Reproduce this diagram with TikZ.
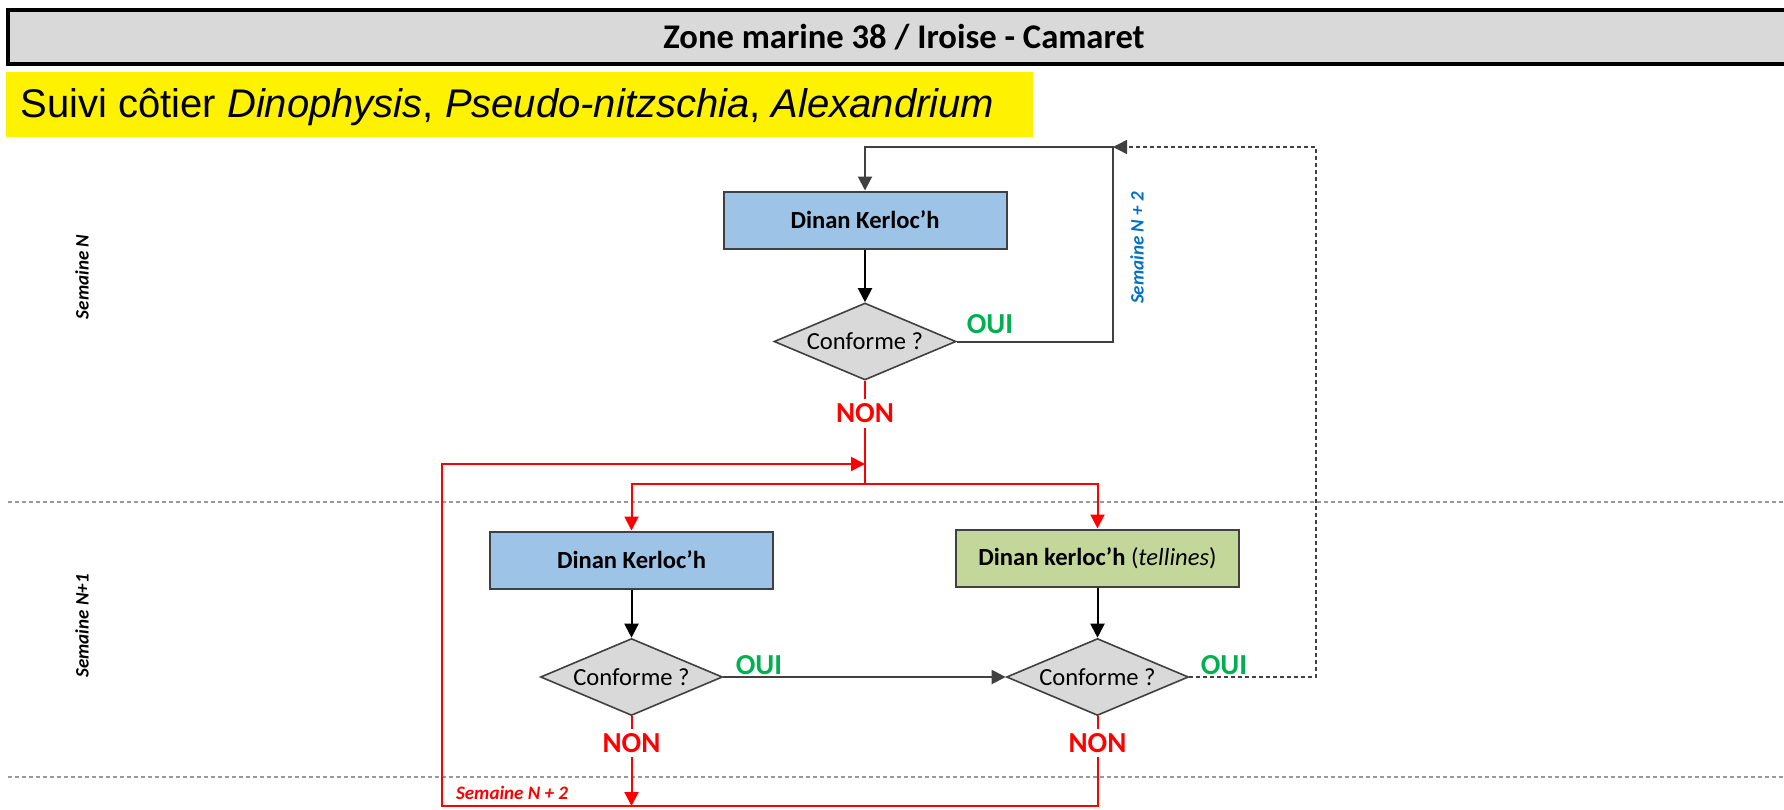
\documentclass[tikz,border=0pt]{standalone}
\usepackage{fontspec}
\setmainfont{Carlito}
\newfontfamily\arialfont{Liberation Sans}
\usetikzlibrary{shapes.geometric,arrows.meta}

\definecolor{titlegray}{HTML}{D9D9D9}
\definecolor{boxblue}{HTML}{9DC3E6}
\definecolor{boxgreen}{HTML}{C4D79B}
\definecolor{ouigreen}{HTML}{00B050}
\definecolor{weekblue}{HTML}{0070C0}
\definecolor{edgegray}{HTML}{404040}

\tikzset{
	site/.style={draw=edgegray, line width=1pt, minimum width=283*\px, minimum height=57*\px, font=\fontsize{12.3}{14}\selectfont\bfseries},
	test/.style={diamond, draw=edgegray, fill=titlegray, line width=0.8pt, aspect=2.36, minimum width=182*\px, minimum height=77*\px, inner sep=0pt, font=\fontsize{12.3}{14}\selectfont},
	oui/.style={text=ouigreen, inner sep=1pt, font=\fontsize{14.5}{16}\selectfont\bfseries},
	non/.style={text=red, inner sep=2pt, font=\fontsize{14.5}{16}\selectfont\bfseries},
	week/.style={rotate=90, font=\fontsize{9.5}{11}\selectfont\bfseries\itshape},
	flow/.style={line width=1pt, -{Triangle[length=7pt,width=7pt]}},
	redflow/.style={flow, red},
	redline/.style={line width=1pt, red},
	backloop/.style={line width=0.75pt, edgegray, dash pattern=on 2pt off 1.5pt, -{Triangle[length=7pt,width=7pt]}},
	weekline/.style={line width=0.6pt, gray!80, dash pattern=on 2pt off 1.5pt}
}

\begin{document}
\begin{tikzpicture}

\def\px{0.5pt}

\begin{scope}[x=\px,y=-\px]
\useasboundingbox (0,0) rectangle (1784,809);

\draw[line width=2pt, fill=titlegray] (8,10) rectangle (1800,64);
\node[font=\fontsize{17.3}{20}\selectfont\bfseries] (title) at (904,37) {Zone marine 38 / Iroise - Camaret};
\fill[yellow] (6,72) rectangle (1033,137);
\node[anchor=base west, inner sep=0pt, font=\arialfont\fontsize{20}{24}\selectfont] (suivi) at (20,117) {Suivi côtier \textit{Dinophysis}, \textit{Pseudo-nitzschia}, \textit{Alexandrium}};

\foreach \y in {502,777}{
	\draw[weekline] (8,\y) -- (1784,\y);
}
\foreach \n\y\t in {wN/277/Semaine N, wNa/626/Semaine N+1}{
	\node[week] (\n) at (82,\y) {\t};
}

\node[site, fill=boxblue] (box1) at (865,220) {Dinan Kerloc’h};
\node[test] (dia1) at (865,341.5) {Conforme ?};
\node[oui] (o1) at (990,324.5) {OUI};
\node[non] (n1) at (865,413.5) {NON};

\node[site, fill=boxblue] (box2) at (631.5,560) {Dinan Kerloc’h};
\node[site, fill=boxgreen, font=\fontsize{12.3}{14}\selectfont] (box3) at (1097.5,558) {\textbf{Dinan kerloc’h} (\textit{tellines})};
\node[test] (dia2) at (631.5,677) {Conforme ?};
\node[test] (dia3) at (1097.5,677) {Conforme ?};
\node[oui] (o2) at (759,665) {OUI};
\node[oui] (o3) at (1224,665) {OUI};
\node[non] (n2) at (631.5,743) {NON};
\node[non] (n3) at (1097.5,743) {NON};

\node[week, text=weekblue] (wNb) at (1137,248) {Semaine N + 2};
\node[week, rotate=-90, text=red, anchor=west] (wNc) at (449,793) {Semaine N + 2};

\coordinate (loopN) at (1113,147);
\coordinate (loopE) at (1316,147);
\coordinate (junc) at (865,464);
\coordinate (split) at (865,484);
\coordinate (botL) at (442,806);

\draw[flow] (box1) -- (dia1);
\draw[flow, edgegray] (dia1.east) -| (loopN) -| (box1.north);
\draw[redline] (dia1.south) -- (n1.north);
\draw[redline] (n1.south) -- (split);
\draw[redflow] (split) -| (box2.north);
\draw[redflow] (split) -| (box3.north);

\draw[flow] (box2) -- (dia2);
\draw[flow] (box3) -- (dia3);
\draw[flow, edgegray] (dia2.east) -- (dia3.west);
\draw[backloop] (dia3.east) -| (loopE) -- (loopN);

\draw[redline] (dia2.south) -- (n2.north);
\draw[redline] (dia3.south) -- (n3.north);
\draw[redflow] (n2.south) -- (n2.south |- botL);
\draw[redflow] (n3.south) |- (botL) |- (junc);
\end{scope}

\end{tikzpicture}
\end{document}
